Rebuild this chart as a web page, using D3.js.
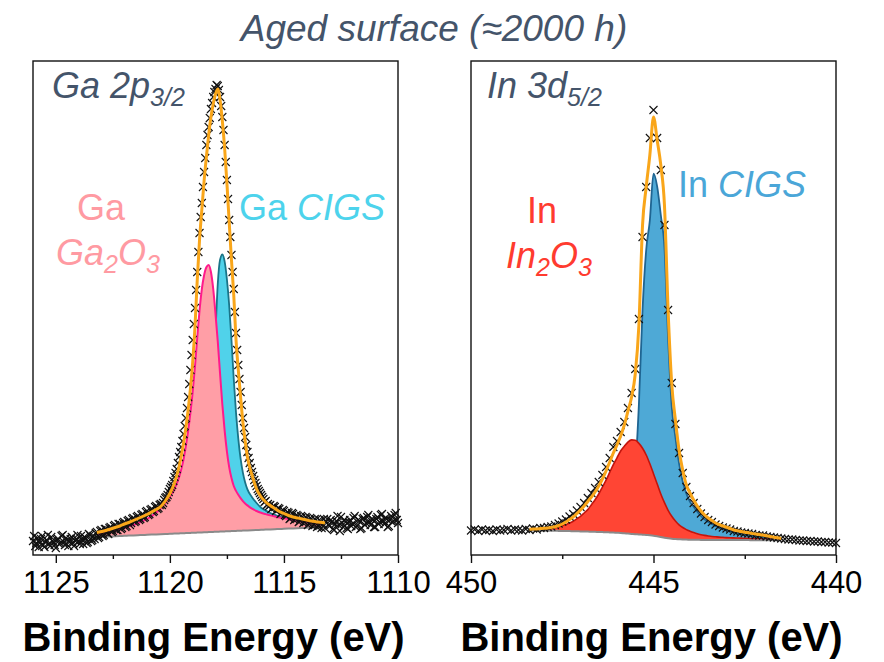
<!DOCTYPE html>
<html>
<head>
<meta charset="utf-8">
<script src="https://cdn.jsdelivr.net/npm/d3@7"></script>
<style>
  body { margin: 0; background: #fff; }
  svg { display: block; font-family: "Liberation Sans", Arial, sans-serif; }
</style>
</head>
<body>
<div id="chart"></div>
<script>
let width = 884,
  height = 662

// ---- Ga 2p3/2 : raw counts, 1126.00 -> 1110.00 eV, 0.05 eV step (a.u.)
const gaStart = 1126.0, gaStep = 0.05
const gaCounts = [
  14, 19, 9, 12, 17, 8, 12, 16, 19, 10, 8, 13, 15, 20, 11, 9, 18, 14, 13, 10,                  // 1126.00 -
  7, 15, 16, 11, 12, 19, 20, 13, 10, 17, 15, 9, 13, 16, 18, 12, 9, 14, 16, 20,                 // 1125.00 -
  14, 11, 19, 15, 11, 18, 17, 12, 13, 21, 20, 14, 15, 19, 16, 22, 23, 17, 18, 24,              // 1124.00 -
  25, 19, 20, 26, 26, 22, 21, 27, 28, 23, 24, 29, 30, 25, 25, 31, 31, 26, 27, 32,              // 1123.00 -
  33, 28, 29, 34, 35, 30, 32, 36, 37, 33, 34, 38, 39, 35, 36, 40, 41, 37, 38, 43,              // 1122.00 -
  44, 40, 41, 45, 46, 43, 44, 48, 49, 46, 47, 50, 51, 50, 52, 55, 57, 58, 60, 63,              // 1121.00 -
  66, 68, 70, 74, 78, 82, 86, 92, 98, 103, 108, 114, 121, 129, 137, 147, 158, 171, 185, 200,   // 1120.00 -
  215, 231, 247, 265, 283, 303, 322, 338, 352, 368, 383, 397, 410, 420, 428, 437, 446, 452, 458, 463, // 1119.00 -
  466, 470, 469, 465, 458, 449, 438, 425, 410, 393, 375, 356, 335, 318, 300, 283, 266, 243, 222, 205, // 1118.00 -
  190, 176, 163, 150, 137, 127, 118, 110, 103, 97, 92, 87, 83, 79, 75, 72, 69, 66, 64, 62,     // 1117.00 -
  60, 58, 56, 53, 54, 50, 51, 49, 50, 46, 47, 49, 48, 44, 45, 47, 46, 41, 42, 45,              // 1116.00 -
  44, 40, 39, 43, 42, 36, 37, 42, 41, 35, 36, 40, 39, 33, 34, 39, 38, 32, 33, 38,              // 1115.00 -
  37, 30, 31, 37, 36, 29, 30, 36, 35, 28, 29, 35, 34, 27, 31, 36, 27, 33, 36, 30,              // 1114.00 -
  29, 35, 33, 26, 25, 31, 34, 39, 30, 24, 38, 32, 28, 35, 33, 27, 26, 33, 35, 29,              // 1113.00 -
  31, 37, 39, 28, 29, 35, 34, 26, 27, 36, 37, 30, 32, 38, 40, 33, 30, 36, 35, 28,              // 1112.00 -
  28, 36, 38, 31, 33, 40, 41, 34, 31, 37, 36, 28, 29, 35, 39, 33, 34, 40, 42, 35,              // 1111.00 -
  32                                                                                           // 1110.00
]

// Ga fit (binding energies of the fit grid)
const gaFitE = [
  1123.2, 1123.0, 1122.8, 1122.6, 1122.4, 1122.2, 1122.0, 1121.8, 1121.6, 1121.4,
  1121.2, 1121.0, 1120.8, 1120.6, 1120.4, 1120.2, 1120.0, 1119.8, 1119.6,
  1119.5, 1119.4, 1119.3, 1119.2, 1119.1, 1119.0, 1118.9, 1118.8, 1118.7, 1118.6,
  1118.5, 1118.4, 1118.3, 1118.2, 1118.1, 1118.0, 1117.9, 1117.8, 1117.7, 1117.6,
  1117.5, 1117.4, 1117.3, 1117.2, 1117.1, 1117.0, 1116.9, 1116.8, 1116.7, 1116.6,
  1116.4, 1116.2, 1116.0, 1115.8, 1115.6, 1115.4, 1115.2, 1115.0, 1114.8, 1114.6,
  1114.4, 1114.2, 1114.0, 1113.8, 1113.6, 1113.4, 1113.2
]
const gaBg = [
  18.0, 18.2, 18.4, 18.6, 18.8, 19.0, 19.2, 19.4, 19.6, 19.8,
  20.0, 20.2, 20.4, 20.6, 20.8, 21.0, 21.2, 21.4, 21.6,
  21.7, 21.8, 21.9, 22.0, 22.1, 22.2, 22.3, 22.4, 22.5, 22.6,
  22.7, 22.8, 22.9, 23.0, 23.1, 23.2, 23.3, 23.4, 23.5, 23.6,
  23.7, 23.8, 23.9, 24.0, 24.1, 24.2, 24.3, 24.4, 24.5, 24.6,
  24.8, 25.0, 25.2, 25.4, 25.6, 25.8, 26.0, 26.2, 26.4, 26.6,
  26.8, 27.0, 27.2, 27.4, 27.6, 27.8, 28.0
]
// Ga2O3 component, height above background
const gaOxide = [
  3, 3.5, 4.2, 5, 6, 7, 8, 9.2, 10.5, 12,
  13.8, 16, 18.5, 22, 26, 31, 37, 45, 56,
  64, 74, 87, 102, 120, 141, 166, 195, 222, 243,
  257, 265, 267, 260, 243, 218, 190, 158, 127, 101,
  80, 64, 53, 45, 40, 36, 32.5, 29.5, 27, 25,
  21.5, 19, 17, 15.5, 14, 12.8, 11.6, 10.5, 9.5, 8.5,
  7.5, 6.6, 5.7, 4.8, 4, 3.2, 2.5
]
// Ga CIGS component, height above background
const gaCigs = [
  3, 3.2, 3.5, 3.8, 4.1, 4.5, 5, 5.5, 6, 6.5,
  7.2, 8, 9, 10, 11, 12.5, 14, 15.5, 17.5,
  18.5, 20, 21.5, 23.5, 25.5, 28, 31, 35, 40, 47,
  56, 70, 90, 118, 155, 200, 248, 272, 277, 270,
  252, 226, 191, 152, 118, 92, 72, 58, 48, 41,
  33, 27, 22, 19, 16.4, 14.4, 12.7, 11.2, 9.9, 8.8,
  7.8, 6.9, 6.1, 5.4, 4.8, 4.2, 3.7
]
const gaEnvelope = [
  22.5, 23.5, 24.5, 26, 27.5, 29, 31, 32.5, 34.5, 36.5,
  38.5, 40.5, 43, 45.5, 48.5, 54, 61.5, 72, 88,
  99, 112, 127, 145, 166, 193, 228, 275, 315, 345,
  374, 398, 420, 438, 451, 461, 466, 455, 434, 407,
  372, 333, 295, 260, 215, 185, 158, 133, 114, 98,
  80, 66, 58, 53, 49.5, 46.5, 43.5, 41.5, 39.5, 38,
  37, 36, 35, 34, 33.3, 32.7, 32
]

// ---- In 3d5/2 : raw counts, 450.0 -> 440.0 eV, 0.1 eV step (a.u.)
const inStart = 450.0, inStep = 0.1
const inCounts = [
  24.5, 25.5, 24, 25.5, 24.5, 25, 24, 25.5, 24.5, 25,   // 450.0 - 449.1
  26, 24.5, 25.5, 25, 24.5, 26, 25, 26.5, 25.5, 27,     // 449.0 - 448.1
  27, 28, 28.5, 30, 31.5, 33.5, 35.5, 38.5, 41, 44.5,   // 448.0 - 447.1
  48, 52, 57, 62, 67, 73, 80, 88, 97, 108,              // 447.0 - 446.1
  114, 123, 133, 147, 162, 186, 236, 318, 368, 417,     // 446.0 - 445.1
  445, 417, 385, 330, 245, 172, 131, 102, 82, 68,       // 445.0 - 444.1
  59, 52, 46, 41.5, 38, 35, 33, 30.5, 29, 27.5,         // 444.0 - 443.1
  26.5, 25.5, 24, 23.5, 22.5, 22, 21.5, 21, 20, 19.5,   // 443.0 - 442.1
  19.5, 18.5, 18, 17.5, 17, 16.5, 16, 15.5, 15.5, 15,   // 442.0 - 441.1
  14.5, 14.5, 14, 14, 13.5, 13.5, 13, 13, 12.5, 12.5,   // 441.0 - 440.1
  12                                                     // 440.0
]

// In fit, 448.4 -> 441.5 eV, 0.1 eV step
const inFitStart = 448.4, inFitStep = 0.1
const inBg = [
  24.5, 24.5, 24.4, 24.4, 24.3, 24.3, 24.2, 24.2, 24.1, 24.0,
  24.0, 23.9, 23.8, 23.7, 23.6, 23.5, 23.4, 23.3, 23.2, 23.0,
  22.9, 22.8, 22.6, 22.4, 22.2, 22.0, 21.7, 21.4, 21.1, 20.8,
  20.6, 20.3, 20.0, 19.7, 19.3, 18.7, 18.0, 17.3, 16.7, 16.2,
  15.9, 15.7, 15.5, 15.4, 15.3, 15.2, 15.2, 15.1, 15.1, 15.0,
  15.0, 15.0, 15.0, 15.0, 14.9, 14.9, 14.9, 14.9, 14.9, 14.9,
  14.9, 14.8, 14.8, 14.8, 14.8, 14.8, 14.8, 14.8, 14.8, 14.8
]
// In2O3 component, height above background
const inOxide = [
  0.5, 0.7, 1.0, 1.2, 1.5, 2.0, 2.5, 3.2, 4.0, 5.2,
  6.5, 8.0, 10, 12.5, 15, 18.5, 22, 27, 32, 38,
  45, 52, 60, 68, 75, 82, 87, 91.5, 94, 94,
  91, 86.5, 80, 71.5, 62, 52.5, 43, 35, 28, 22.5,
  18, 14.5, 12, 10, 8.5, 7.2, 6.0, 5.2, 4.5, 4.0,
  3.5, 3.2, 2.9, 2.7, 2.5, 2.3, 2.2, 2.1, 2.0, 1.8,
  1.7, 1.6, 1.5, 1.4, 1.2, 1.1, 1.05, 1.0, 1.0, 1.0
]
// In CIGS component, height above background
const inCigs = [
  1.0, 1.1, 1.2, 1.3, 1.4, 1.5, 1.6, 1.8, 1.9, 2.1,
  2.3, 2.5, 2.7, 3.0, 3.3, 3.6, 4.0, 4.5, 5.0, 5.6,
  6.3, 7.2, 8.2, 9.5, 11, 14, 19, 27, 40, 65,
  130, 225, 285, 315, 362, 350, 322, 290, 200, 132,
  102, 76, 58, 46, 38, 33, 28, 24, 20.5, 18,
  16, 14, 12.5, 11.3, 10.3, 9.2, 7.8, 7.0, 6.3, 5.6,
  5.0, 4.4, 3.8, 3.3, 2.9, 2.5, 2.1, 1.7, 1.3, 1.0
]
const inEnvelope = [
  25.7, 25.9, 26.1, 26.4, 26.7, 27.1, 27.6, 28.3, 29.5, 31,
  33, 35.5, 38, 41.5, 45, 49, 53.5, 58, 63, 69,
  76, 84, 93, 102, 110, 119, 130, 144, 158, 181,
  230, 330, 368, 400, 438, 415, 390, 350, 245, 171,
  135, 105, 85, 70, 62, 55, 49, 44, 40, 37,
  34.5, 32, 30.5, 29, 27.8, 26.5, 25, 24.2, 23.5, 22.8,
  22.2, 21.6, 21, 20.5, 20, 19.2, 18.5, 17.8, 17.2, 16.5
]

// axis ticks
const gaTicks = [1125, 1120, 1115, 1110], gaMinor = [1122.5, 1117.5, 1112.5]
const inTicks = [450, 445, 440], inMinor = [447.5, 442.5]

let svg = d3.select('#chart')
  .append('svg')
  .attr('width', width)
  .attr('height', height)

let plotTop = 61, plotBottom = 555, pw = 365

// same intensity scale for both panels
let y = d3.scaleLinear().domain([0, 494]).range([plotBottom, plotTop])

let fontFam = '"Liberation Sans", Arial, sans-serif'

function panel(o) {
  let x = d3.scaleLinear().domain(o.domain).range([o.left, o.left + pw])
  let g = svg.append('g')

  let raw = o.counts.map((c, i) => ({ e: o.start - i * o.step, c: c }))
  let fit = o.fitE.map((e, i) => ({ e: e, bg: o.bg[i], ox: o.oxide[i], cg: o.cigs[i], env: o.env[i] }))

  let curve = d3.curveMonotoneX

  let areaOf = key => d3.area()
    .x(d => x(d.e))
    .y0(d => y(d.bg))
    .y1(d => y(d.bg + d[key]))
    .curve(curve)
  let lineOf = key => d3.line()
    .x(d => x(d.e))
    .y(d => y(d.bg + d[key]))
    .curve(curve)

  // CIGS component first, oxide drawn over it
  g.append('path').datum(fit).attr('d', areaOf('cg')).attr('fill', o.cigsFill)
  g.append('path').datum(fit).attr('d', lineOf('cg'))
    .attr('fill', 'none').attr('stroke', o.cigsLine).attr('stroke-width', 1.8)
  g.append('path').datum(fit).attr('d', areaOf('ox')).attr('fill', o.oxFill)
  g.append('path').datum(fit).attr('d', lineOf('ox'))
    .attr('fill', 'none').attr('stroke', o.oxLine).attr('stroke-width', o.oxWidth)

  // background
  g.append('path').datum(fit)
    .attr('d', d3.line().x(d => x(d.e)).y(d => y(d.bg)).curve(curve))
    .attr('fill', 'none').attr('stroke', '#8a8a8a').attr('stroke-width', 2)

  // raw data crosses
  let s = 4
  g.append('g').selectAll('path')
    .data(raw)
    .enter().append('path')
    .attr('transform', d => `translate(${x(d.e)},${y(d.c)})`)
    .attr('d', `M${-s},${-s}L${s},${s}M${-s},${s}L${s},${-s}`)
    .attr('stroke', '#111').attr('stroke-width', 1.1)

  // envelope
  g.append('path').datum(fit)
    .attr('d', d3.line().x(d => x(d.e)).y(d => y(d.env)).curve(curve))
    .attr('fill', 'none').attr('stroke', '#f9a61a').attr('stroke-width', 3)

  // frame
  g.append('rect')
    .attr('x', o.left).attr('y', plotTop)
    .attr('width', pw).attr('height', plotBottom - plotTop)
    .attr('fill', 'none').attr('stroke', '#111').attr('stroke-width', 1.4)

  // x axis
  let ax = g.append('g').attr('transform', `translate(0,${plotBottom})`)
    .call(d3.axisBottom(x).tickValues(o.ticks).tickSize(8).tickFormat(d3.format('d')))
  ax.select('.domain').remove()
  ax.selectAll('line').attr('stroke', '#111').attr('stroke-width', 1.4)
  ax.selectAll('text')
    .attr('y', 38).attr('dy', 0)
    .attr('font-size', 31).attr('font-family', fontFam).attr('fill', '#000')

  let mx = g.append('g').attr('transform', `translate(0,${plotBottom})`)
    .call(d3.axisBottom(x).tickValues(o.minor).tickSize(4).tickFormat(''))
  mx.select('.domain').remove()
  mx.selectAll('line').attr('stroke', '#111').attr('stroke-width', 1.4)

  g.append('text')
    .attr('x', o.left + pw / 2 - 2).attr('y', 651)
    .attr('text-anchor', 'middle')
    .attr('font-size', 40).attr('font-weight', 'bold')
    .text('Binding Energy (eV)')
}

panel({
  domain: [1126, 1110], left: 33,
  start: gaStart, step: gaStep, counts: gaCounts,
  fitE: gaFitE, bg: gaBg, oxide: gaOxide, cigs: gaCigs, env: gaEnvelope,
  ticks: gaTicks, minor: gaMinor,
  cigsFill: '#50d2ea', cigsLine: '#1a7488',
  oxFill: '#ff9ea6', oxLine: '#ff1a8c', oxWidth: 2
})

panel({
  domain: [450, 440], left: 471,
  start: inStart, step: inStep, counts: inCounts,
  fitE: inEnvelope.map((d, i) => inFitStart - i * inFitStep),
  bg: inBg, oxide: inOxide, cigs: inCigs, env: inEnvelope,
  ticks: inTicks, minor: inMinor,
  cigsFill: '#4ea9d6', cigsLine: '#1f6592',
  oxFill: '#ff4534', oxLine: '#c4140c', oxWidth: 1.6
})

// title
svg.append('text')
  .attr('x', 434).attr('y', 41)
  .attr('text-anchor', 'middle')
  .attr('font-size', 37).attr('font-style', 'italic')
  .attr('fill', '#44546a')
  .text('Aged surface (\u22482000 h)')

// labels with subscripts: parts = [text, italic, sub]
function label(x, yy, parts, color, anchor) {
  let t = svg.append('text')
    .attr('x', x).attr('y', yy)
    .attr('text-anchor', anchor || 'start')
    .attr('font-size', 36)
    .attr('fill', color)
  let shifted = false
  parts.forEach(p => {
    let ts = t.append('tspan').text(p[0])
    if (p[1]) ts.attr('font-style', 'italic')
    if (p[2] && !shifted) { ts.attr('dy', 8).attr('font-size', 25); shifted = true }
    else if (p[2]) ts.attr('font-size', 25)
    else if (shifted) { ts.attr('dy', -8); shifted = false }
  })
}

label(52, 98, [['Ga 2p', true], ['3/2', true, true]], '#44546a')
label(487, 98, [['In 3d', true], ['5/2', true, true]], '#44546a')

label(101, 220, [['Ga']], '#ff9aa2', 'middle')
label(108, 265, [['Ga', true], ['2', true, true], ['O', true], ['3', true, true]], '#ff9aa2', 'middle')
label(239, 220, [['Ga '], ['CIGS', true]], '#4dd3ec')

label(542, 223, [['In']], '#ff3b2f', 'middle')
label(549, 268, [['In', true], ['2', true, true], ['O', true], ['3', true, true]], '#ff3b2f', 'middle')
label(678, 197, [['In '], ['CIGS', true]], '#4aa6d8')
</script>
</body>
</html>
